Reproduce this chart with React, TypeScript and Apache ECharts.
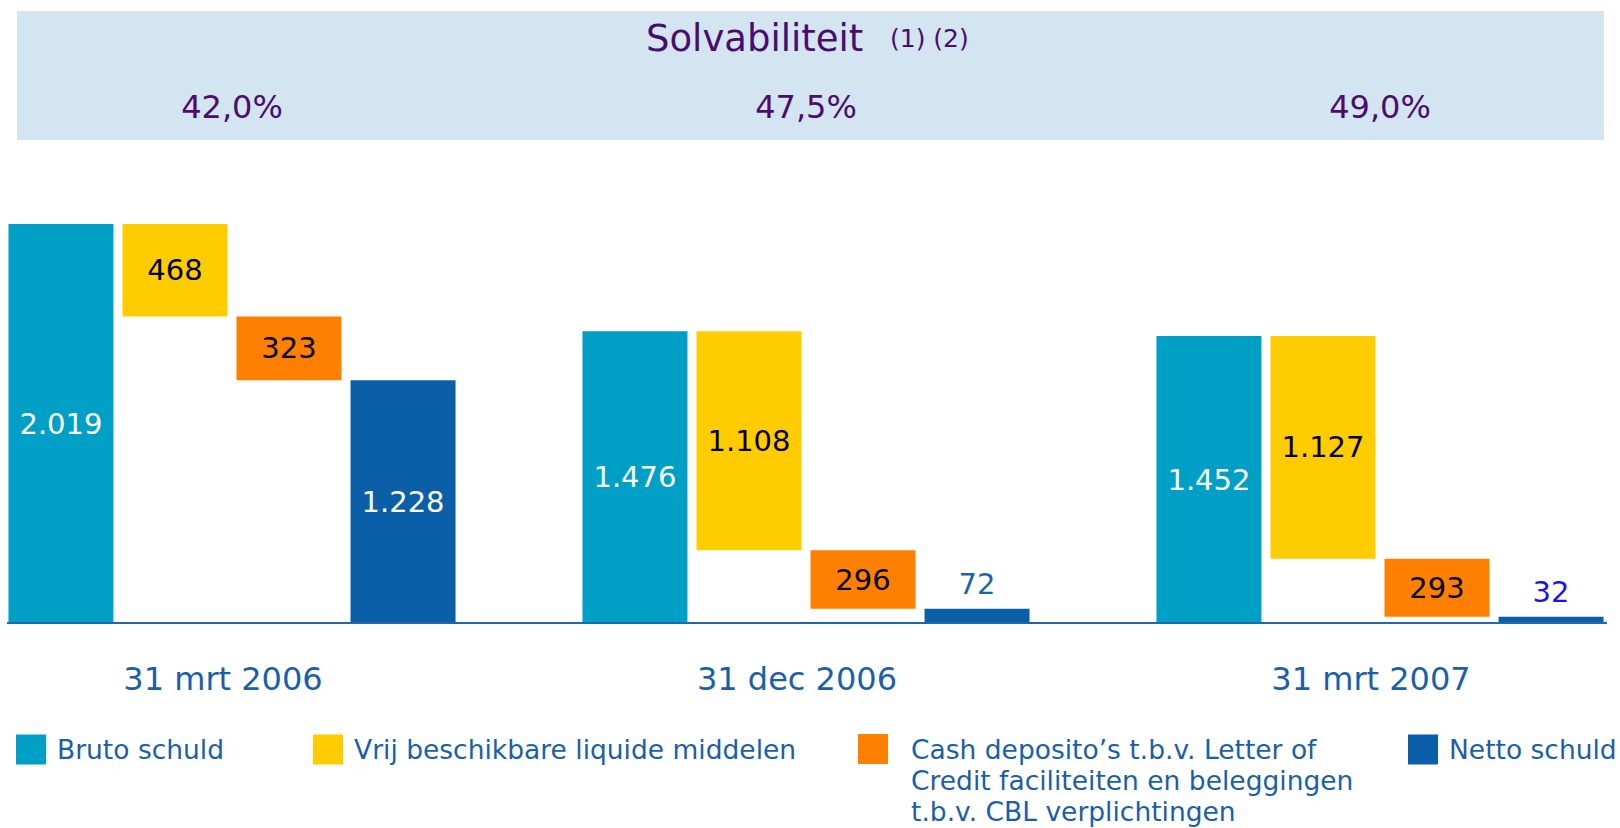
import React, { useEffect, useRef } from 'react';
import * as echarts from 'echarts';

// ---- data ----
const categories = ['31 mrt 2006', '31 dec 2006', '31 mrt 2007'];
const solvabiliteit = ['42,0%', '47,5%', '49,0%'];
const brutoSchuld = [2019, 1476, 1452];
const vrijLiquide = [468, 1108, 1127];
const cashDeposito = [323, 296, 293];
const nettoSchuld = [1228, 72, 32];
const seriesNames = [
  'Bruto schuld',
  'Vrij beschikbare liquide middelen',
  'Cash deposito’s t.b.v. Letter of Credit faciliteiten en beleggingen t.b.v. CBL verplichtingen',
  'Netto schuld',
];
const cashLegendLines = ['Cash deposito’s t.b.v. Letter of', 'Credit faciliteiten en beleggingen', 't.b.v. CBL verplichtingen'];

// ---- styles ----
const FONT = '"DejaVu Sans", Verdana, sans-serif';
const COLORS = ['#00a0c6', '#ffcc00', '#ff8000', '#0a5fa8'];
const BLUE_TEXT = '#1a60a8';
const PURPLE = '#4b0c6e';
const legendLeft = [16, 313, 858, 1408];
const nettoOutsideColors = ['#1a63ad', '#1a63ad', '#1414f0'];

const fmt = (v: number) =>
  v >= 1000 ? `${Math.floor(v / 1000)}.${String(v % 1000).padStart(3, '0')}` : String(v);

export default function App() {
  const ref = useRef<HTMLDivElement>(null);
  useEffect(() => {
    if (!ref.current) return;
    const chart = echarts.init(ref.current, undefined, { renderer: 'svg' });
    const barCommon = { type: 'bar' as const, barWidth: 105, barGap: '8.6%', xAxisIndex: 0, yAxisIndex: 0 };
    const labelCommon = { show: true, fontFamily: FONT, fontSize: 29, position: 'inside' as const };
    const option: any = {
      animation: false,
      backgroundColor: '#ffffff',
      title: [
        {
          text: 'Solvabiliteit',
          left: 646,
          top: 20,
          padding: 0,
          textStyle: { fontSize: 37, fontWeight: 'normal', color: PURPLE, fontFamily: FONT },
        },
        {
          text: '(1) (2)',
          left: 890,
          top: 26,
          padding: 0,
          textStyle: { fontSize: 25, fontWeight: 'normal', color: PURPLE, fontFamily: FONT },
        },
      ],
      graphic: [
        { type: 'rect', z: -10, shape: { x: 17, y: 11, width: 1587, height: 129 }, style: { fill: '#d2e5f0' } },
        { type: 'line', z: 10, shape: { x1: 7, y1: 623, x2: 1607, y2: 623 }, style: { stroke: '#1f68b0', lineWidth: 2 } },
      ],
      legend: seriesNames.map((n, i) => ({
        data: [n],
        left: legendLeft[i],
        top: i === 2 ? 671.5 : 734,
        padding: 0,
        itemWidth: 30,
        itemHeight: 30,
        icon: 'rect',
        selectedMode: false,
        // two leading empty lines keep the first text line level with the colour square
        formatter: (name: string) => (name === seriesNames[2] ? '\n\n' + cashLegendLines.join('\n') : name),
        textStyle: {
          fontSize: 26.5,
          color: BLUE_TEXT,
          fontFamily: FONT,
          lineHeight: 31,
          padding: i === 2 ? [0, 0, 0, 18] : [0, 0, 0, 6],
        },
      })),
      grid: { left: -55, width: 1722, top: 208, height: 415, containLabel: false, outerBoundsMode: 'none' },
      xAxis: [
        {
          type: 'category',
          position: 'bottom',
          data: categories,
          axisLine: { show: false },
          axisTick: { show: false },
          axisLabel: { fontSize: 32, color: BLUE_TEXT, fontFamily: FONT, margin: 40, padding: [0, 18, 0, 0] },
        },
        {
          type: 'category',
          position: 'top',
          data: solvabiliteit,
          axisLine: { show: false },
          axisTick: { show: false },
          axisLabel: { fontSize: 32, color: PURPLE, fontFamily: FONT, margin: 85 },
        },
      ],
      yAxis: { type: 'value', min: 0, max: 2100, show: false, splitLine: { show: false } },
      series: [
        {
          ...barCommon,
          name: seriesNames[0],
          stack: 'a',
          data: brutoSchuld,
          itemStyle: { color: COLORS[0] },
          label: { ...labelCommon, color: '#ffffff', formatter: (p: any) => fmt(p.value) },
        },
        {
          ...barCommon,
          name: 'base-b',
          stack: 'b',
          silent: true,
          data: brutoSchuld.map((v, i) => v - vrijLiquide[i]),
          itemStyle: { color: 'transparent' },
          label: { show: false },
        },
        {
          ...barCommon,
          name: seriesNames[1],
          stack: 'b',
          data: vrijLiquide,
          itemStyle: { color: COLORS[1] },
          label: { ...labelCommon, color: '#000000', formatter: (p: any) => fmt(p.value) },
        },
        {
          ...barCommon,
          name: 'base-c',
          stack: 'c',
          silent: true,
          data: nettoSchuld,
          itemStyle: { color: 'transparent' },
          label: { show: false },
        },
        {
          ...barCommon,
          name: seriesNames[2],
          stack: 'c',
          data: cashDeposito,
          itemStyle: { color: COLORS[2] },
          label: { ...labelCommon, color: '#000000', formatter: (p: any) => fmt(p.value) },
        },
        {
          ...barCommon,
          name: seriesNames[3],
          stack: 'd',
          data: nettoSchuld.map((v, i) =>
            v < 200
              ? { value: v, label: { position: 'top', distance: 10, color: nettoOutsideColors[i] } }
              : v
          ),
          itemStyle: { color: COLORS[3] },
          label: { ...labelCommon, color: '#ffffff', formatter: (p: any) => fmt(p.value) },
        },
      ],
    };
    chart.setOption(option);
    return () => chart.dispose();
  }, []);
  return (
    <div
      ref={ref}
      style={{ position: 'absolute', left: 0, top: 0, width: 1620, height: 828 }}
    />
  );
}
